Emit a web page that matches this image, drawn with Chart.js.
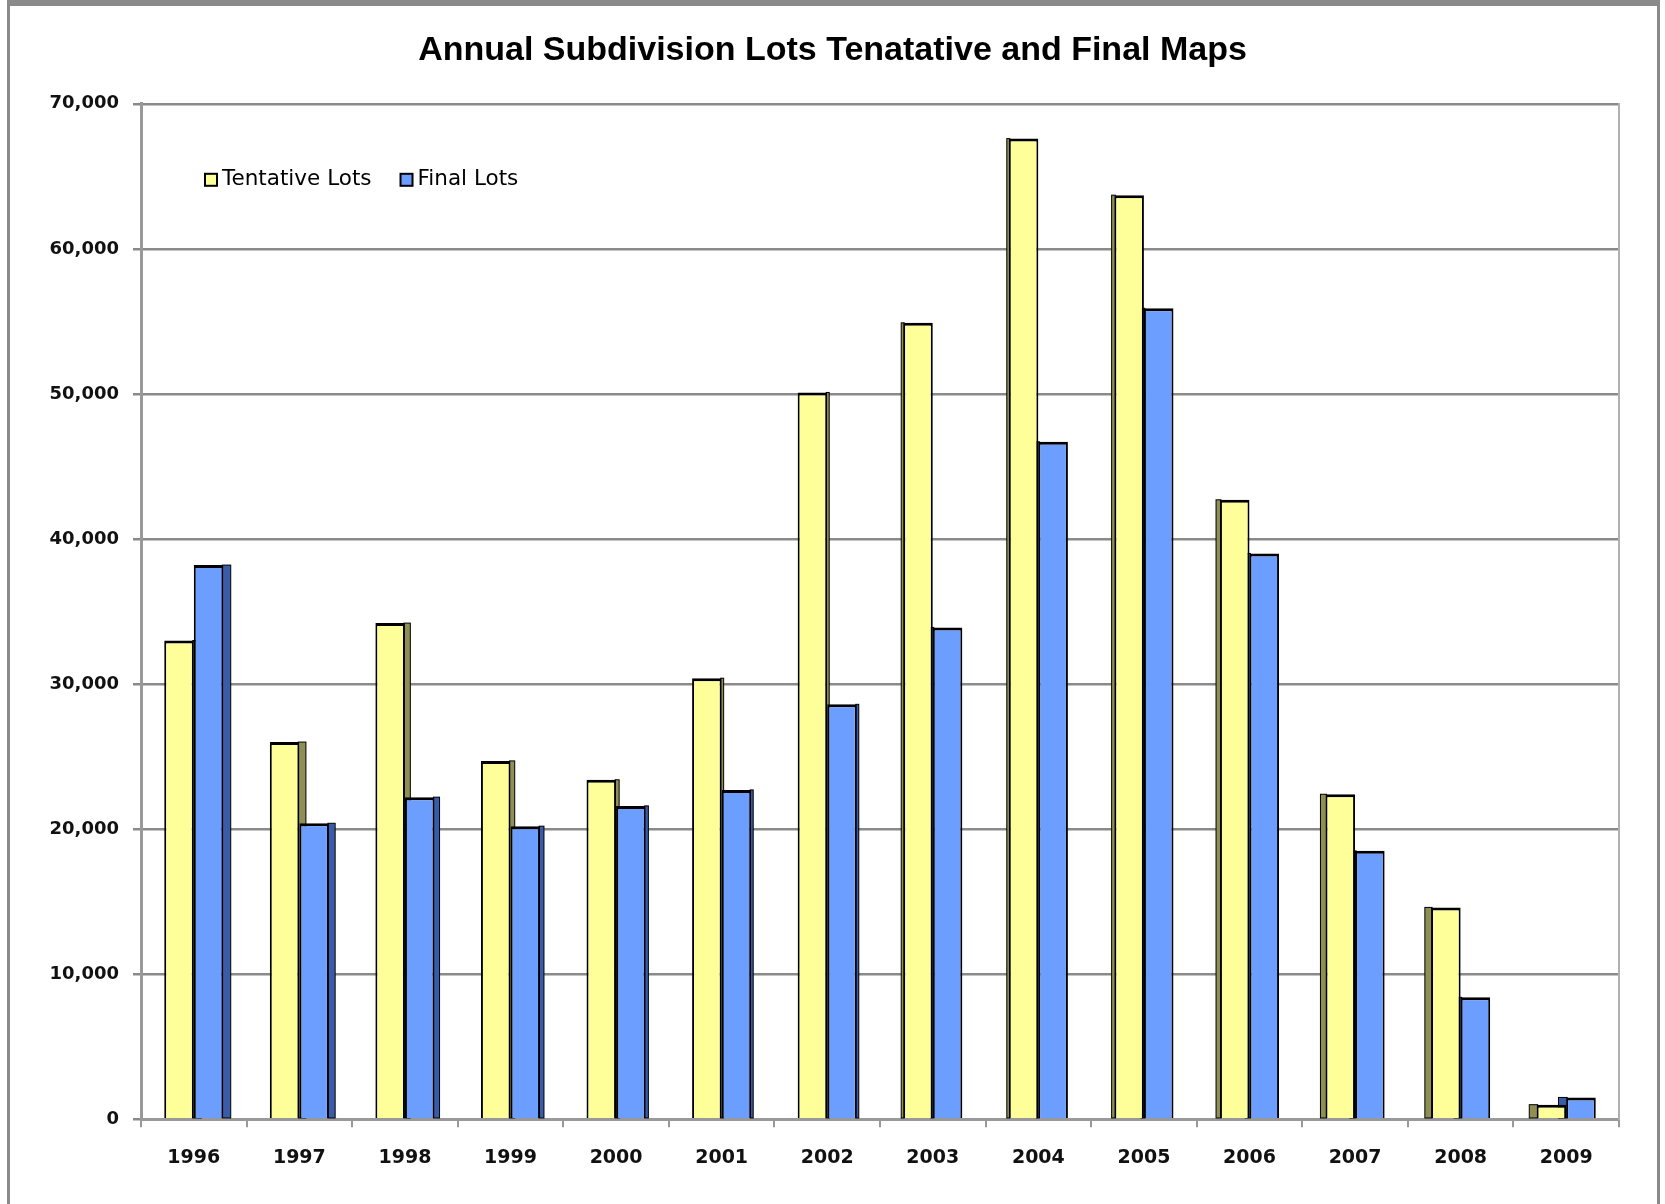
<!DOCTYPE html>
<html>
<head>
<meta charset="utf-8">
<script src="https://cdn.jsdelivr.net/npm/chart.js@4/dist/chart.umd.min.js"></script>
<style>
  body { margin: 0; background: #fff; }
  #wrap { position: relative; width: 1665px; height: 1204px; overflow: hidden; }
  #frame { position: absolute; left: 7px; top: 0; width: 1647px; height: 1220px;
           border: 3px solid #8a8a8a; border-top-width: 6px; pointer-events: none; }
</style>
</head>
<body>
<div id="wrap">
  <canvas id="myChart" width="1665" height="1204"></canvas>
  <div id="frame"></div>
</div>
<script>
const years = ['1996','1997','1998','1999','2000','2001','2002','2003','2004','2005','2006','2007','2008','2009'];
const tentativeLots = [33000, 26000, 34200, 24700, 23400, 30400, 50100, 54900, 67600, 63700, 42700, 22400, 14600, 1000];
const finalLots = [38200, 20400, 22200, 20200, 21600, 22700, 28600, 33900, 46700, 55900, 39000, 18500, 8400, 1500];
const yMax = 70000;
const yStep = 10000;

// side face of each bar: right side for bars left of centre, left side for bars right of it
const barSides = {
    id: 'barSides',
    beforeDatasetsDraw(chart) {
        const ctx = chart.ctx;
        const area = chart.chartArea;
        const mid = (area.left + area.right) / 2;
        ctx.save();
        chart.data.datasets.forEach((ds, i) => {
            chart.getDatasetMeta(i).data.forEach(bar => {
                const p = bar.getProps(['x', 'y', 'base', 'width'], true);
                const depth = (mid - p.x) * 0.011;
                const w = Math.max(Math.abs(depth), 2) + 1;
                const edge = depth > 0 ? p.x + p.width / 2 - 1 : p.x - p.width / 2 + 1 - w;
                ctx.fillStyle = ds.sideColor;
                ctx.fillRect(edge, p.y, w, p.base - p.y);
                ctx.strokeStyle = '#000';
                ctx.lineWidth = 1;
                ctx.strokeRect(edge, p.y, w, p.base - p.y);
            });
        });
        ctx.restore();
    }
};

// legend sitting inside the plot, top left
const innerLegend = {
    id: 'innerLegend',
    afterDraw(chart) {
        const ctx = chart.ctx;
        const area = chart.chartArea;
        let x = area.left + 64;
        const y = area.top + 76;
        ctx.save();
        ctx.font = '21.5px "DejaVu Sans"';
        ctx.textBaseline = 'middle';
        chart.data.datasets.forEach(ds => {
            ctx.fillStyle = ds.backgroundColor;
            ctx.fillRect(x, y - 6, 12, 12);
            ctx.strokeStyle = '#000';
            ctx.lineWidth = 2;
            ctx.strokeRect(x, y - 6, 12, 12);
            ctx.fillStyle = '#000';
            ctx.fillText(ds.label, x + 17, y);
            x += 17 + ctx.measureText(ds.label).width + 29;
        });
        ctx.restore();
    }
};

const ctx = document.getElementById('myChart').getContext('2d');
const myChart = new Chart(ctx, {
    type: 'bar',
    data: {
        labels: years,
        datasets: [
            {
                label: 'Tentative Lots',
                data: tentativeLots,
                backgroundColor: '#ffff99',
                sideColor: '#8f8f55',
                borderColor: '#000',
                borderWidth: { top: 3, left: 2, right: 2, bottom: 0 }
            },
            {
                label: 'Final Lots',
                data: finalLots,
                backgroundColor: '#6b9eff',
                sideColor: '#3a5ca8',
                borderColor: '#000',
                borderWidth: { top: 3, left: 2, right: 2, bottom: 0 }
            }
        ]
    },
    options: {
        responsive: false,
        animation: false,
        devicePixelRatio: 1,
        categoryPercentage: 0.56,
        barPercentage: 1.0,
        layout: {
            padding: { left: 0, right: 0, top: 0, bottom: 16 }
        },
        scales: {
            x: {
                grid: {
                    display: true,
                    drawOnChartArea: false,
                    drawTicks: true,
                    tickLength: 8,
                    color: '#999',
                    lineWidth: 2
                },
                border: { display: true, color: '#999', width: 3 },
                ticks: {
                    padding: 19,
                    color: '#111',
                    font: { family: 'DejaVu Sans', size: 19, weight: 'bold' }
                }
            },
            y: {
                min: 0,
                max: yMax,
                afterFit(scale) { scale.width = 141; },
                grid: {
                    color: '#8a8a8a',
                    lineWidth: 2.5,
                    tickLength: 8
                },
                border: { display: true, color: '#999', width: 3 },
                ticks: {
                    stepSize: yStep,
                    padding: 14,
                    color: '#111',
                    font: { family: 'DejaVu Sans', size: 18, weight: 'bold' },
                    callback: v => v.toLocaleString('en-US')
                }
            },
            y2: {
                position: 'right',
                min: 0,
                max: yMax,
                afterFit(scale) { scale.width = 46; },
                grid: { drawOnChartArea: false, drawTicks: false },
                border: { display: true, color: '#b0b0b0', width: 2 },
                ticks: { display: false }
            }
        },
        plugins: {
            legend: { display: false },
            tooltip: { enabled: false },
            title: {
                display: true,
                text: 'Annual Subdivision Lots Tenatative and Final Maps',
                color: '#000',
                font: { family: 'Liberation Sans', size: 34, weight: 'bold' },
                padding: { top: 30, bottom: 33 }
            }
        }
    },
    plugins: [barSides, innerLegend]
});
</script>
</body>
</html>
